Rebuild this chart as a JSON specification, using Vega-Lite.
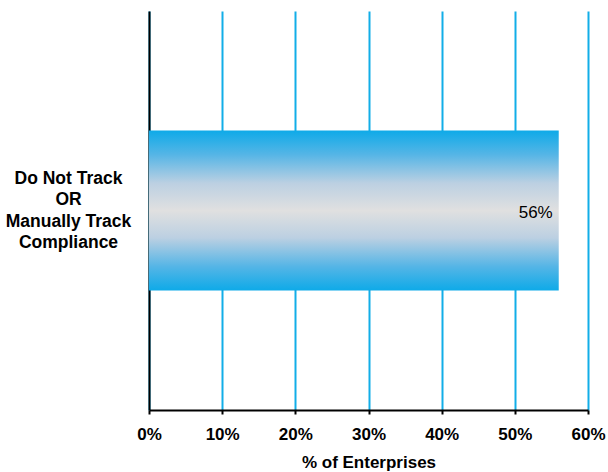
{
  "$schema": "https://vega.github.io/schema/vega-lite/v6.json",
  "width": 439,
  "height": 399,
  "autosize": {"type": "none"},
  "padding": {"left": 149, "top": 11, "right": 20, "bottom": 62},
  "background": "#ffffff",
  "config": {
    "view": {"stroke": null},
    "font": "Liberation Sans"
  },
  "data": {
    "values": [
      {"category": "Do Not Track|OR|Manually Track|Compliance", "pct": 0.56}
    ]
  },
  "encoding": {
    "y": {
      "field": "category",
      "type": "nominal",
      "scale": {"paddingInner": 0, "paddingOuter": 0.747},
      "axis": {
        "title": null,
        "labelExpr": "split(datum.label, '|')",
        "labelAlign": "center",
        "labelBaseline": "middle",
        "labelPadding": 81,
        "labelOffset": -32,
        "labelFont": "Liberation Sans",
        "labelFontSize": 17.5,
        "labelFontWeight": "bold",
        "labelColor": "#000000",
        "labelLineHeight": 21.5,
        "ticks": false,
        "domainColor": "#000000",
        "domainWidth": 2
      }
    },
    "x": {
      "field": "pct",
      "type": "quantitative",
      "scale": {"domain": [0, 0.6], "nice": false},
      "axis": {
        "title": "% of Enterprises",
        "titleFont": "Liberation Sans",
        "titleFontSize": 17,
        "titleFontWeight": "bold",
        "titleColor": "#000000",
        "titlePadding": 12,
        "format": ".0%",
        "values": [0, 0.1, 0.2, 0.3, 0.4, 0.5, 0.6],
        "labelFont": "Liberation Sans",
        "labelFontSize": 17,
        "labelFontWeight": "bold",
        "labelColor": "#000000",
        "labelPadding": 12,
        "labelFlush": false,
        "tickColor": "#000000",
        "tickSize": 4,
        "tickWidth": 2,
        "domainColor": "#000000",
        "domainWidth": 2,
        "grid": true,
        "gridColor": "#12aee8",
        "gridWidth": 2,
        "gridOpacity": 1
      }
    }
  },
  "layer": [
    {
      "mark": {
        "type": "bar",
        "color": {
          "gradient": "linear",
          "x1": 0, "y1": 0, "x2": 0, "y2": 1,
          "stops": [
            {"offset": 0, "color": "#0eaae8"},
            {"offset": 0.15, "color": "#55b5e6"},
            {"offset": 0.33, "color": "#bcd0e2"},
            {"offset": 0.5, "color": "#e0e0e0"},
            {"offset": 0.67, "color": "#bcd0e2"},
            {"offset": 0.85, "color": "#55b5e6"},
            {"offset": 1, "color": "#0eaae8"}
          ]
        }
      }
    },
    {
      "mark": {
        "type": "text",
        "align": "right",
        "baseline": "middle",
        "dx": -6,
        "dy": 2,
        "font": "Liberation Sans",
        "fontSize": 17,
        "color": "#000000"
      },
      "encoding": {
        "text": {"field": "pct", "type": "quantitative", "format": ".0%"}
      }
    }
  ]
}
